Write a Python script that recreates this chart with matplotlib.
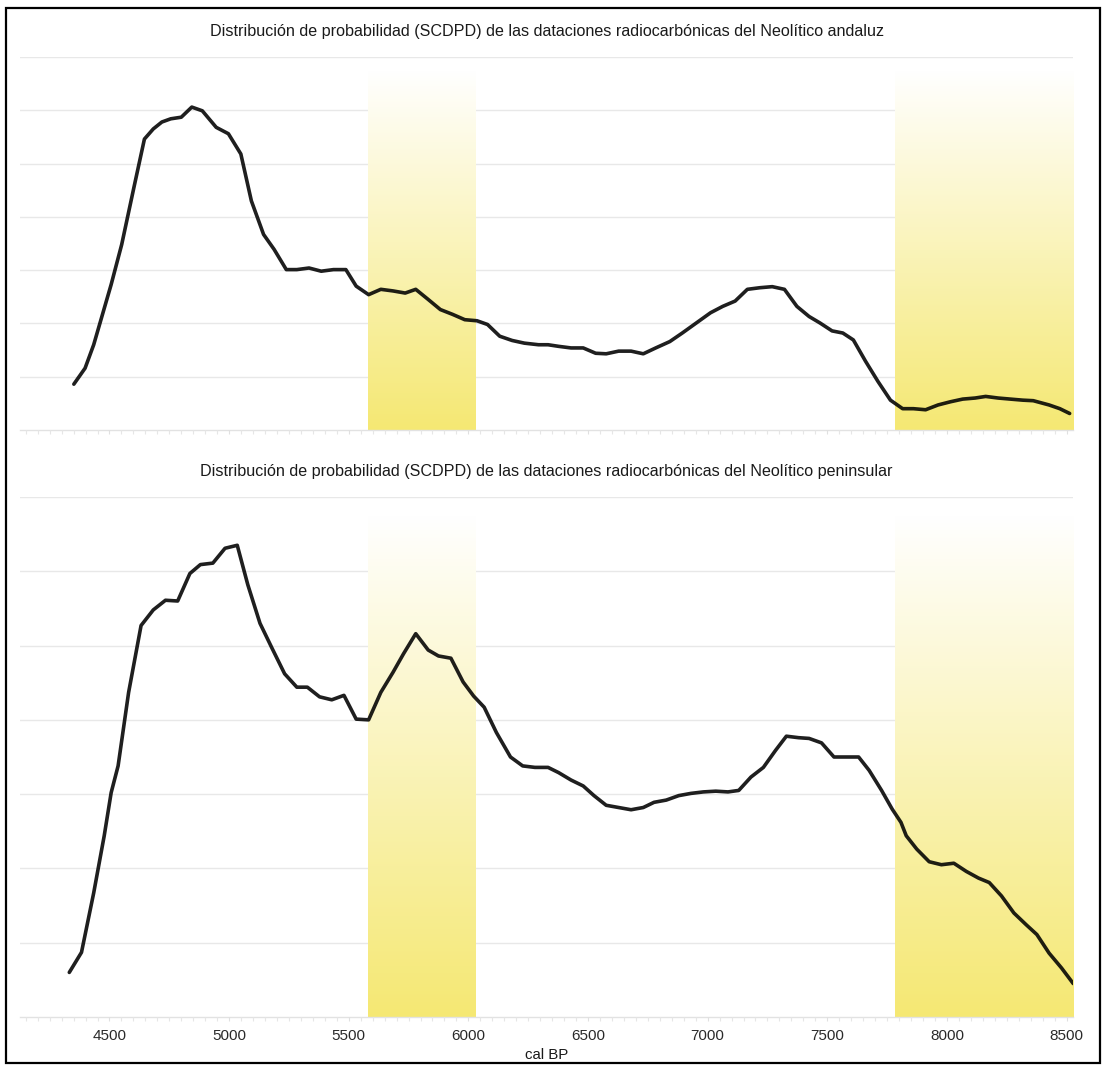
import numpy as np
import matplotlib
matplotlib.use("Agg")
import matplotlib.pyplot as plt
from matplotlib.patches import Rectangle

plt.rcParams['font.family'] = ['Liberation Sans', 'DejaVu Sans']

# ---------------- data ----------------
title_top = "Distribución de probabilidad (SCDPD) de las dataciones radiocarbónicas del Neolítico andaluz"
title_bottom = "Distribución de probabilidad (SCDPD) de las dataciones radiocarbónicas del Neolítico peninsular"
xlabel = "cal BP"

years_andaluz = [4351, 4398, 4434, 4507, 4551, 4602, 4646, 4683, 4719, 4756,
                 4800, 4844, 4888, 4946, 4997, 5049, 5093, 5144, 5188, 5239,
                 5283, 5334, 5385, 5436, 5488, 5531, 5583, 5634, 5685, 5736,
                 5780, 5832, 5883, 5934, 5985, 6036, 6080, 6131, 6183, 6234,
                 6293, 6333, 6377, 6429, 6480, 6532, 6576, 6628, 6680, 6731,
                 6783, 6842, 6894, 6953, 7012, 7063, 7115, 7166, 7218, 7270,
                 7321, 7373, 7424, 7469, 7520, 7565, 7609, 7660, 7712, 7764,
                 7815, 7860, 7911, 7963, 8015, 8066, 8118, 8162, 8214, 8265,
                 8317, 8361, 8427, 8472, 8513]
prob_andaluz = [0.86, 1.16, 1.60, 2.73, 3.48, 4.55, 5.46, 5.65, 5.78, 5.84,
                5.87, 6.06, 5.99, 5.68, 5.56, 5.18, 4.30, 3.67, 3.39, 3.01,
                3.01, 3.04, 2.98, 3.01, 3.01, 2.70, 2.54, 2.64, 2.61, 2.57,
                2.64, 2.45, 2.26, 2.17, 2.07, 2.05, 1.98, 1.76, 1.68, 1.63,
                1.60, 1.60, 1.57, 1.54, 1.54, 1.44, 1.43, 1.48, 1.48, 1.43,
                1.54, 1.66, 1.82, 2.01, 2.20, 2.32, 2.42, 2.64, 2.67, 2.69,
                2.64, 2.32, 2.13, 2.01, 1.86, 1.82, 1.69, 1.29, 0.91, 0.56,
                0.40, 0.40, 0.38, 0.47, 0.53, 0.58, 0.60, 0.63, 0.60, 0.58,
                0.56, 0.55, 0.47, 0.40, 0.31]

years_peninsular = [4332, 4383, 4434, 4478, 4507, 4536, 4580, 4632, 4683, 4734,
                    4785, 4836, 4880, 4932, 4983, 5034, 5078, 5129, 5180, 5232,
                    5283, 5327, 5378, 5429, 5480, 5531, 5583, 5634, 5685, 5729,
                    5780, 5832, 5875, 5927, 5978, 6022, 6066, 6117, 6176, 6227,
                    6278, 6333, 6377, 6429, 6480, 6525, 6576, 6628, 6680, 6731,
                    6776, 6827, 6879, 6930, 6982, 7034, 7085, 7130, 7181, 7233,
                    7284, 7329, 7380, 7424, 7476, 7528, 7579, 7631, 7675, 7727,
                    7771, 7808, 7830, 7874, 7926, 7977, 8029, 8081, 8132, 8177,
                    8228, 8280, 8332, 8376, 8427, 8479, 8528]
prob_peninsular = [0.60, 0.87, 1.67, 2.44, 3.02, 3.38, 4.37, 5.27, 5.48, 5.61,
                   5.60, 5.97, 6.09, 6.11, 6.31, 6.35, 5.82, 5.30, 4.96, 4.62,
                   4.44, 4.44, 4.31, 4.27, 4.33, 4.01, 4.00, 4.37, 4.64, 4.89,
                   5.16, 4.94, 4.86, 4.83, 4.51, 4.32, 4.17, 3.83, 3.50, 3.38,
                   3.36, 3.36, 3.29, 3.19, 3.11, 2.98, 2.85, 2.82, 2.79, 2.82,
                   2.89, 2.92, 2.98, 3.01, 3.03, 3.04, 3.03, 3.05, 3.23, 3.36,
                   3.59, 3.78, 3.76, 3.75, 3.69, 3.50, 3.50, 3.50, 3.32, 3.05,
                   2.80, 2.62, 2.44, 2.26, 2.09, 2.05, 2.07, 1.96, 1.87, 1.81,
                   1.63, 1.40, 1.24, 1.11, 0.86, 0.66, 0.45]

# highlighted periods (cal BP)
band_starts = [5582, 7782]
band_ends = [6032, 8527]

x_ticks = [4500, 5000, 5500, 6000, 6500, 7000, 7500, 8000, 8500]

# ---------------- figure ----------------
W, H = 1102, 1065
fig = plt.figure(figsize=(W / 100, H / 100), dpi=100)
fig.patch.set_facecolor('white')

xlim = (4126, 8527)
left = 20 / W
width = (1073 - 20) / W
ax1 = fig.add_axes([left, (H - 430) / H, width, (430 - 57) / H])
ax2 = fig.add_axes([left, (H - 1017) / H, width, (1017 - 497) / H])

band_rgb = np.array([245, 232, 115]) / 255.0
grad_n = 256
alpha_col = np.linspace(0.0, 1.0, grad_n)[:, None]  # top -> bottom
grad = np.zeros((grad_n, 2, 4))
grad[:, :, 0] = 1 - (1 - band_rgb[0]) * alpha_col
grad[:, :, 1] = 1 - (1 - band_rgb[1]) * alpha_col
grad[:, :, 2] = 1 - (1 - band_rgb[2]) * alpha_col
grad[:, :, 3] = 1.0


def style_axis(ax, years, probs, title):
    ax.set_xlim(*xlim)
    ax.set_ylim(0, 7)
    for s in ax.spines.values():
        s.set_visible(False)
    for g in range(1, 8):
        ax.axhline(g, color='#e8e8e8', lw=1.0, zorder=0.5)
    for b0, b1 in zip(band_starts, band_ends):
        ax.imshow(grad, extent=[b0, b1, 0, 6.75], aspect='auto',
                  interpolation='bilinear', zorder=1)
    ax.axhline(0, color='#e2e2e2', lw=1.0, zorder=1.5, clip_on=False)
    ax.plot(years, probs, color='black', lw=2.6, alpha=0.88,
            solid_joinstyle='round', solid_capstyle='round', zorder=3)
    ax.set_yticks([])
    ax.set_xticks(range(4150, 8550, 50), minor=True)
    ax.tick_params(axis='x', which='minor', length=3, width=0.8,
                   color='#e6e6e6', direction='out')
    ax.tick_params(axis='x', which='major', length=3, width=0.8,
                   color='#e0e0e0', direction='out', labelsize=11,
                   labelcolor='#2a2a2a', pad=6)
    ax.set_title(title, fontsize=11.6, color='#1a1a1a', pad=15)
    ax.set_xlim(*xlim)
    ax.set_ylim(0, 7)


style_axis(ax1, years_andaluz, prob_andaluz, title_top)
ax1.set_xticks(x_ticks)
ax1.set_xticklabels([])

style_axis(ax2, years_peninsular, prob_peninsular, title_bottom)
ax2.set_xticks(x_ticks)
ax2.set_xticklabels([str(t) for t in x_ticks])
ax2.set_xlabel(xlabel, fontsize=10.8, color='#1a1a1a', labelpad=3)

# outer frame
fig.patches.append(Rectangle((6 / W, 2 / H), (1100 - 6) / W, (1057 - 2) / H,
                             transform=fig.transFigure, fill=False,
                             edgecolor='black', lw=1.6, zorder=10))

fig.savefig('out.png', dpi=100, facecolor='white')
